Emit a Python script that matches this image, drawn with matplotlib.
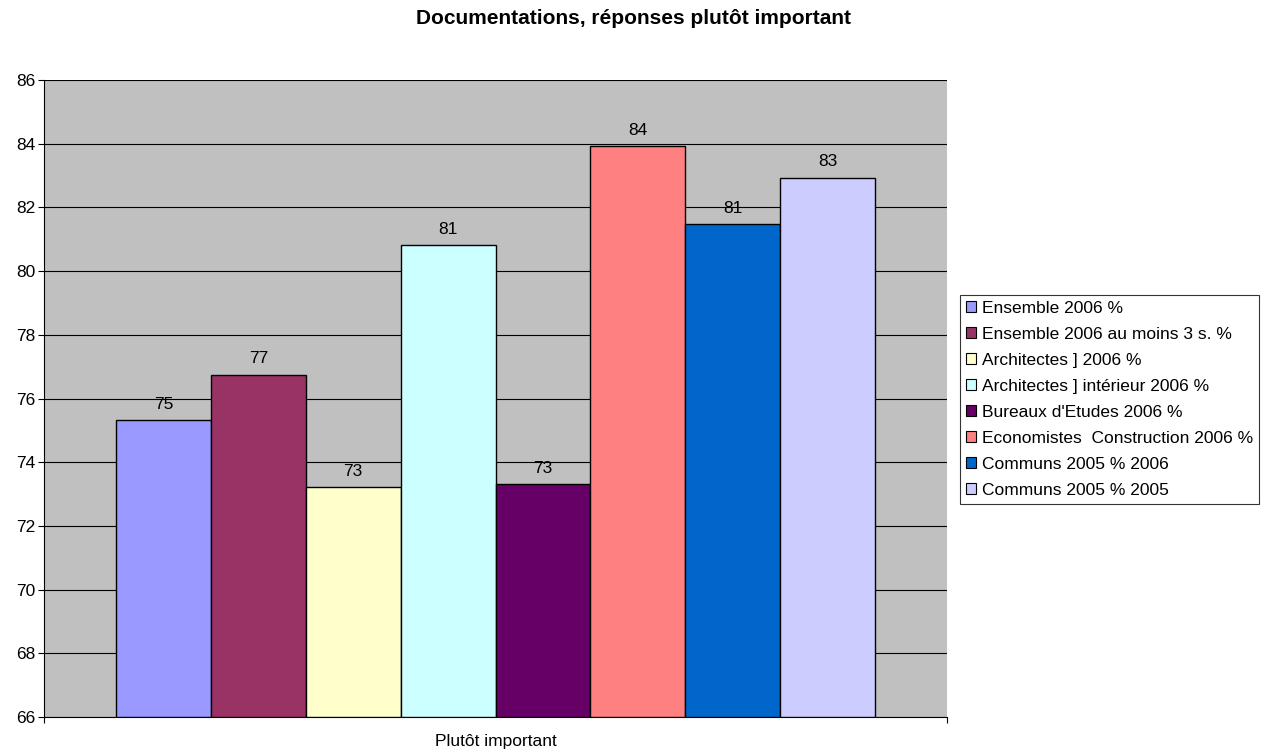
import numpy as np
import matplotlib.pyplot as plt
from matplotlib.patches import Patch

plt.rcParams['font.family'] = ['Liberation Sans', 'DejaVu Sans']

series = ['Ensemble 2006 %', 'Ensemble 2006 au moins 3 s. %', 'Architectes ] 2006 %',
          'Architectes ] intérieur 2006 %', "Bureaux d'Etudes 2006 %",
          'Economistes  Construction 2006 %', 'Communs 2005 % 2006', 'Communs 2005 % 2005']
values = [75.31, 76.75, 73.21, 80.81, 73.30, 83.92, 81.47, 82.93]
colors = ['#9999FF', '#993366', '#FFFFCC', '#CCFFFF', '#660066', '#FF8080', '#0066CC', '#CCCCFF']
category = 'Plutôt important'

fs = 12.5

fig = plt.figure(figsize=(12.69, 7.53), dpi=100)
ax = fig.add_axes([44/1269, 1-717/753, (947-44)/1269, (717-80)/753])
ax.set_facecolor('#C0C0C0')

x = np.arange(len(values))
bars = ax.bar(x, [v - 66 for v in values], bottom=66, width=1.0, color=colors,
              edgecolor='black', linewidth=1.0, zorder=3)
for b, v in zip(bars, values):
    ax.annotate('%.0f' % v, (b.get_x() + b.get_width()/2, v), xytext=(0, 6),
                textcoords='offset points', ha='center', va='bottom', fontsize=fs)

ax.set_ylim(66, 86)
ax.set_yticks(np.arange(66, 87, 2))
ax.yaxis.grid(True, color='black', linewidth=0.8, zorder=1)
ax.set_xlim(-1.258, 8.258)
ax.set_xticks([-1.258, 8.258])
ax.set_xticklabels(['', ''])
ax.set_xticks([3.5], minor=True)
ax.set_xticklabels([category], minor=True)
ax.tick_params(axis='x', which='minor', length=0, pad=12, labelsize=fs)
ax.tick_params(axis='x', which='major', length=4, direction='out')
ax.tick_params(axis='y', length=4, direction='out', labelsize=fs, pad=2)
for s in ['top', 'right']:
    ax.spines[s].set_visible(False)
for s in ['left', 'bottom']:
    ax.spines[s].set_color('black')
    ax.spines[s].set_linewidth(0.8)

handles = [Patch(facecolor=c, edgecolor='black', linewidth=0.8) for c in colors]
leg = fig.legend(handles, series, loc='upper left', bbox_to_anchor=(960/1269, 1-295/753),
                 fontsize=fs, frameon=True, fancybox=False, edgecolor='black',
                 handlelength=0.6, handleheight=0.6, handletextpad=0.3,
                 labelspacing=0.63, borderpad=0.35, borderaxespad=0)
leg.get_frame().set_linewidth(0.8)

fig.text(633/1269, 1-19/753, 'Documentations, réponses plutôt important',
         ha='center', va='center', fontsize=15, fontweight='bold')

fig.savefig('out.png', dpi=100)
